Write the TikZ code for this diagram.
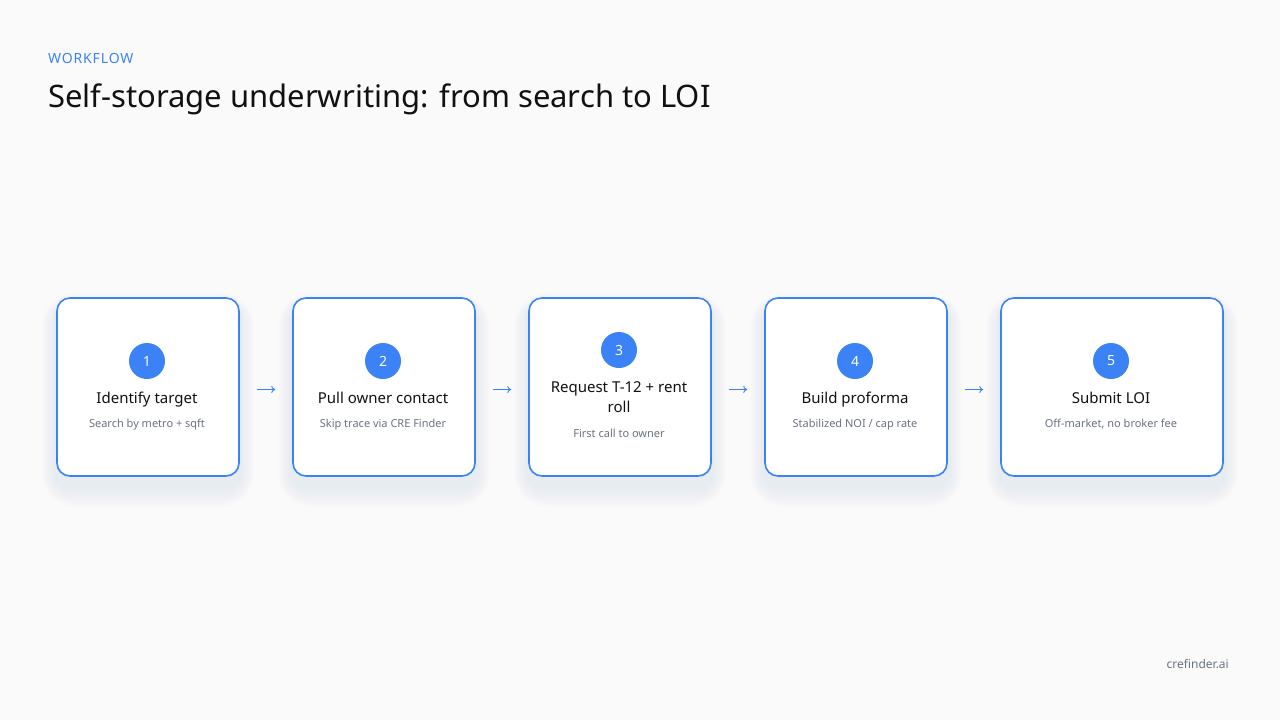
\documentclass[tikz,border=0pt]{standalone}
\usepackage{fontspec}
\setmainfont{Noto Sans}
\usetikzlibrary{arrows.meta,backgrounds}
\definecolor{bg}{HTML}{FAFAFA}
\definecolor{blu}{HTML}{3B82F6}
\definecolor{ink}{HTML}{111111}
\definecolor{gry}{HTML}{6B7280}
\definecolor{shd}{HTML}{A9BFEF}
\tikzset{
  stepbox/.style={draw=blu, line width=1.6pt, fill=white, rounded corners=13pt, minimum height=178pt, inner sep=0pt},
  numdot/.style={circle, fill=blu, minimum size=36pt, inner sep=0pt, text=white, font=\fontsize{14}{16}\selectfont},
  ttl/.style={anchor=base, text=ink, font=\fontsize{15}{20}\selectfont, align=center},
  dsc/.style={anchor=base, text=gry, font=\fontsize{11}{13}\selectfont},
  arr/.style={draw=blu, line width=0.9pt, -{To[length=4pt,width=7pt]}},
}
\begin{document}
\begin{tikzpicture}[x=1pt,y=-1pt]
\node[anchor=base west, text=blu, inner sep=0pt, font=\fontsize{14}{16}\selectfont\addfontfeature{LetterSpace=6}] (kick) at (48,63) {WORKFLOW};
\node[anchor=base west, text=ink, inner sep=0pt, font=\fontsize{31}{38}\selectfont] (title) at (48,107) {Self-storage underwriting: from search to LOI};
% boxes
\node[stepbox, minimum width=182pt] (b1) at (148,387) {};
\node[stepbox, minimum width=182pt] (b2) at (384,387) {};
\node[stepbox, minimum width=182pt] (b3) at (620,387) {};
\node[stepbox, minimum width=182pt] (b4) at (856,387) {};
\node[stepbox, minimum width=222pt] (b5) at (1112,387) {};
\begin{scope}[on background layer]
\fill[bg] (0,0) rectangle (1280,720);
\foreach \b in {b1,b2,b3,b4,b5}{
  \foreach \i in {2,4,...,20}{
    \fill[shd, opacity=0.02, rounded corners=13pt+\i pt]
      ([xshift=-0.7*\i pt, yshift=-10pt+0.7*\i pt]\b.north west) rectangle ([xshift=0.7*\i pt, yshift=-10pt-\i pt]\b.south east);
  }
}
\end{scope}
\useasboundingbox (0,0) rectangle (1280,720);
% box 1
\node[numdot] (n1) at (147,361) {1};
\node[ttl] (t1) at (147,403) {Identify target};
\node[dsc] (d1) at (147,427) {Search by metro + sqft};
% box 2
\node[numdot] (n2) at (383,361) {2};
\node[ttl] (t2) at (383,403) {Pull owner contact};
\node[dsc] (d2) at (383,427) {Skip trace via CRE Finder};
% box 3
\node[numdot] (n3) at (619,350) {3};
\node[ttl] (t3a) at (619,392) {Request T-12 + rent};
\node[ttl] (t3b) at (619,412) {roll};
\node[dsc] (d3) at (619,437) {First call to owner};
% box 4
\node[numdot] (n4) at (855,361) {4};
\node[ttl] (t4) at (855,403) {Build proforma};
\node[dsc] (d4) at (855,427) {Stabilized NOI / cap rate};
% box 5
\node[numdot] (n5) at (1111,361) {5};
\node[ttl] (t5) at (1111,403) {Submit LOI};
\node[dsc] (d5) at (1111,427) {Off-market, no broker fee};
% arrows
\draw[arr] ([xshift=17pt,yshift=-2.5pt]b1.east) -- ([xshift=-17pt,yshift=-2.5pt]b2.west);
\draw[arr] ([xshift=17pt,yshift=-2.5pt]b2.east) -- ([xshift=-17pt,yshift=-2.5pt]b3.west);
\draw[arr] ([xshift=17pt,yshift=-2.5pt]b3.east) -- ([xshift=-17pt,yshift=-2.5pt]b4.west);
\draw[arr] ([xshift=17pt,yshift=-2.5pt]b4.east) -- ([xshift=-17pt,yshift=-2.5pt]b5.west);
\node[anchor=base east, text=gry, inner sep=0pt, font=\fontsize{12}{14}\selectfont] (brand) at (1229,668) {crefinder.ai};
\end{tikzpicture}
\end{document}
